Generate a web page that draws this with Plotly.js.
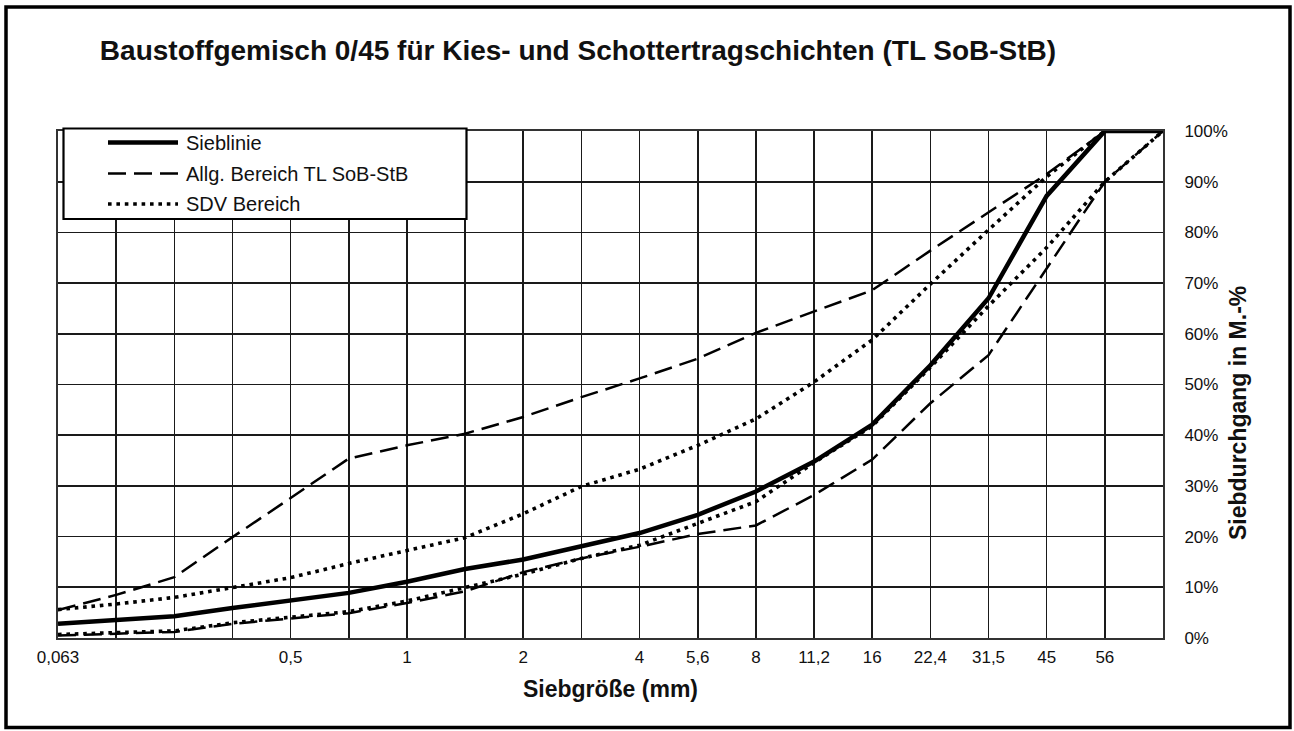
<!DOCTYPE html>
<html>
<head>
<meta charset="utf-8">
<script src="https://cdn.plot.ly/plotly-3.0.1.min.js"></script>
<style>
  html, body { margin: 0; padding: 0; background: #fff; }
  #chart { width: 1294px; height: 731px; }
</style>
</head>
<body>
<div id="chart"></div>
<script>
// ---- data ----
const sieveLabels = ['0,063', '', '', '', '0,5', '', '1', '', '2', '', '4', '5,6', '8', '11,2', '16', '22,4', '31,5', '45', '56', ''];
const sieblinie  = [2.8, 3.5, 4.3, 5.9, 7.4, 8.9, 11.1, 13.6, 15.5, 18.0, 20.7, 24.3, 28.9, 34.8, 42.1, 53.8, 67.0, 87.2, 100, 100];
const allgOben   = [5.5, 8.5, 12.0, 19.9, 27.6, 35.4, 38.0, 40.3, 43.6, 47.5, 51.2, 55.1, 60.2, 64.4, 68.6, 76.4, 84.0, 91.5, 100, 100];
const allgUnten  = [0.5, 0.9, 1.2, 2.8, 3.9, 4.9, 6.9, 9.2, 13.0, 15.7, 18.0, 20.5, 22.2, 28.2, 35.2, 46.3, 55.8, 73.0, 90.0, 100];
const sdvOben    = [5.6, 6.7, 8.0, 10.0, 11.9, 14.7, 17.2, 19.8, 24.5, 29.9, 33.3, 38.0, 43.2, 50.5, 58.8, 69.8, 80.5, 91.0, 100, 100];
const sdvUnten   = [0.7, 1.0, 1.4, 3.0, 4.1, 5.2, 7.3, 10.0, 12.6, 15.7, 18.3, 22.6, 26.9, 34.6, 41.8, 53.4, 65.5, 77.0, 90.0, 100];
const legendNames = ['Sieblinie', 'Allg. Bereich TL SoB-StB', 'SDV Bereich'];
const yTickVals = [0, 10, 20, 30, 40, 50, 60, 70, 80, 90, 100];

// ---- layout constants ----
const FONT = 'Liberation Sans, Arial, Helvetica, sans-serif';
const W = 1294, H = 731;
const M = { l: 58, r: 131, t: 131, b: 93 };
const PW = W - M.l - M.r, PH = H - M.t - M.b;
const px = x => (x - M.l) / PW;          // pixel -> paper x
const py = y => (H - M.b - y) / PH;      // pixel -> paper y

const positions = sieveLabels.map((_, i) => i);

const styles = {
  solid:  { color: '#000', width: 4.5, dash: 'solid' },
  dashed: { color: '#000', width: 2.5, dash: '18px,8px' },
  dotted: { color: '#000', width: 3.6, dash: '3.6px,4.8px' }
};

const traces = [
  { y: allgOben,  name: legendNames[1], line: styles.dashed },
  { y: allgUnten, name: legendNames[1], line: styles.dashed },
  { y: sdvOben,   name: legendNames[2], line: styles.dotted },
  { y: sdvUnten,  name: legendNames[2], line: styles.dotted },
  { y: sieblinie, name: legendNames[0], line: styles.solid }
].map(t => ({
  type: 'scatter', mode: 'lines', x: positions, y: t.y, name: t.name,
  line: t.line, showlegend: false, hoverinfo: 'x+y'
}));

// custom legend (like the original Excel box)
const legRows = [142.5, 173.5, 204];
const legStyles = [styles.solid, styles.dashed, styles.dotted];
const shapes = [
  // outer frame of the whole chart
  { type: 'rect', xref: 'paper', yref: 'paper', x0: px(6), x1: px(1290), y0: py(727.5), y1: py(7),
    line: { color: '#000', width: 3.5 }, fillcolor: 'rgba(0,0,0,0)', layer: 'above' },
  // legend box
  { type: 'rect', xref: 'paper', yref: 'paper', x0: px(63.5), x1: px(466.5), y0: py(219), y1: py(128.5),
    line: { color: '#000', width: 2.2 }, fillcolor: '#fff', layer: 'above' }
];
legRows.forEach((r, i) => {
  shapes.push({ type: 'line', xref: 'paper', yref: 'paper', x0: px(108), x1: px(178), y0: py(r), y1: py(r),
    line: { color: legStyles[i].color, width: legStyles[i].width, dash: legStyles[i].dash }, layer: 'above' });
});
const annotations = legRows.map((r, i) => ({
  xref: 'paper', yref: 'paper', x: px(184), y: py(r), xanchor: 'left', yanchor: 'middle',
  text: legendNames[i], showarrow: false, font: { family: FONT, size: 20, color: '#111' }
}));
annotations.push({
  xref: 'paper', yref: 'paper', x: px(1238), y: py(413), xanchor: 'center', yanchor: 'middle',
  text: '<b>Siebdurchgang in M.-%</b>', textangle: -90, showarrow: false,
  font: { family: FONT, size: 23, color: '#111' }
});

const layout = {
  width: W, height: H,
  margin: M,
  paper_bgcolor: '#fff', plot_bgcolor: '#fff',
  showlegend: false,
  title: {
    text: '<b>Baustoffgemisch 0/45 für Kies- und Schottertragschichten (TL SoB-StB)</b>',
    font: { family: FONT, size: 28, color: '#111' },
    xref: 'container', yref: 'container', x: 578 / W, y: 1 - 50 / H, xanchor: 'center', yanchor: 'middle'
  },
  xaxis: {
    range: [0, sieveLabels.length - 1], tickmode: 'array', tickvals: positions, ticktext: sieveLabels,
    showgrid: true, gridcolor: '#1a1a1a', gridwidth: 1.6, zeroline: false,
    showline: true, linecolor: '#333', linewidth: 2, mirror: true,
    ticks: '', ticklabelstandoff: 3,
    tickfont: { family: FONT, size: 17, color: '#111' },
    title: { text: '<b>Siebgröße (mm)</b>', font: { family: FONT, size: 23, color: '#111' }, standoff: 14 },
    fixedrange: true
  },
  yaxis: {
    side: 'right', range: [0, 100], tickmode: 'array', tickvals: yTickVals,
    ticktext: yTickVals.map(v => v + '%'),
    showgrid: true, gridcolor: '#1a1a1a', gridwidth: 1.6, zeroline: false,
    showline: true, linecolor: '#333', linewidth: 2, mirror: true,
    ticks: '', ticklabelstandoff: 16,
    tickfont: { family: FONT, size: 17, color: '#111' },
    fixedrange: true
  },
  shapes: shapes,
  annotations: annotations
};

Plotly.newPlot('chart', traces, layout, { displayModeBar: false, staticPlot: true });
</script>
</body>
</html>
